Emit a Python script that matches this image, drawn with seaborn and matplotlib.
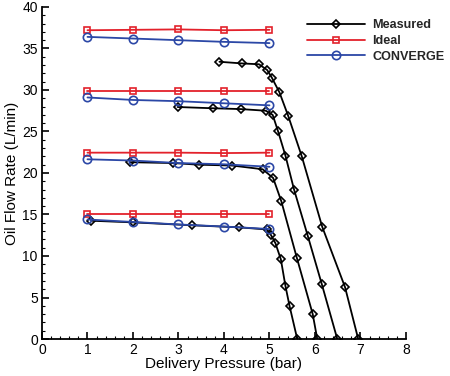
import matplotlib
matplotlib.use("Agg")
import matplotlib.pyplot as plt
import seaborn as sns
import pandas as pd
from matplotlib.lines import Line2D
from matplotlib.ticker import MultipleLocator

sns.set_theme(style="ticks")
plt.rcParams['font.family'] = ['Liberation Sans', 'DejaVu Sans']

# ---- data ----
sim_pressure = [1, 2, 3, 4, 5]
ideal_1 = [15.0, 15.0, 15.0, 15.0, 15.0]
ideal_2 = [22.45, 22.45, 22.45, 22.4, 22.45]
ideal_3 = [29.85, 29.85, 29.85, 29.85, 29.85]
ideal_4 = [37.2, 37.25, 37.3, 37.2, 37.25]

conv_1 = [14.4, 14.1, 13.8, 13.55, 13.25]
conv_2 = [21.65, 21.5, 21.2, 21.05, 20.75]
conv_3 = [29.1, 28.8, 28.65, 28.4, 28.15]
conv_4 = [36.4, 36.2, 36.0, 35.8, 35.65]

meas_p1 = [1.08, 2.01, 3.30, 4.34, 4.94, 5.03, 5.13, 5.25, 5.35, 5.44, 5.61]
meas_q1 = [14.25, 14.05, 13.7, 13.45, 13.2, 12.55, 11.55, 9.6, 6.4, 4.0, 0.0]

meas_p2 = [1.93, 2.88, 3.44, 4.18, 4.85, 5.08, 5.26, 5.60, 5.95, 6.05]
meas_q2 = [21.3, 21.2, 21.0, 20.9, 20.45, 19.4, 16.6, 9.8, 3.0, 0.0]

meas_p3 = [2.98, 3.75, 4.37, 4.92, 5.07, 5.19, 5.35, 5.54, 5.84, 6.15, 6.49]
meas_q3 = [27.95, 27.8, 27.7, 27.5, 27.0, 25.0, 22.1, 18.0, 12.45, 6.6, 0.0]

meas_p4 = [3.90, 4.40, 4.77, 4.95, 5.05, 5.22, 5.41, 5.71, 6.16, 6.66, 6.95]
meas_q4 = [33.4, 33.2, 33.1, 32.4, 31.5, 29.7, 26.9, 22.0, 13.5, 6.25, 0.0]

labels = ["Measured", "Ideal", "CONVERGE"]

RED = '#e3212b'
BLUE = '#2b47a6'
BLACK = '#000000'

fig = plt.figure(figsize=(4.5, 3.76), dpi=100)
ax = fig.add_axes([0.0933, 0.0984, 0.8089, 0.8830])

def draw(xs, ys, color, marker, ms, z):
    df = pd.DataFrame({'x': xs, 'y': ys})
    sns.lineplot(data=df, x='x', y='y', ax=ax, sort=False, estimator=None,
                 color=color, linewidth=1.3, marker=marker, markersize=ms,
                 markerfacecolor='none', markeredgecolor=color,
                 markeredgewidth=1.2, zorder=z, legend=False)

for ys in [ideal_1, ideal_2, ideal_3, ideal_4]:
    draw(sim_pressure, ys, RED, 's', 4.2, 3)
for xs, ys in [(meas_p1, meas_q1), (meas_p2, meas_q2), (meas_p3, meas_q3), (meas_p4, meas_q4)]:
    draw(xs, ys, BLACK, 'D', 4.2, 4)
for ys in [conv_1, conv_2, conv_3, conv_4]:
    draw(sim_pressure, ys, BLUE, 'o', 6, 5)

ax.set_xlim(0, 8)
ax.set_ylim(0, 40)
ax.xaxis.set_major_locator(MultipleLocator(1))
ax.xaxis.set_minor_locator(MultipleLocator(0.2))
ax.yaxis.set_major_locator(MultipleLocator(5))
ax.yaxis.set_minor_locator(MultipleLocator(1))
ax.tick_params(which='major', direction='in', length=5, width=1.2, labelsize=10, color='black', labelcolor='black', pad=3)
ax.tick_params(which='minor', direction='in', length=2.5, width=0.8, color='black')
for s in ['top', 'right']:
    ax.spines[s].set_visible(False)
for s in ['left', 'bottom']:
    ax.spines[s].set_color('black')
    ax.spines[s].set_linewidth(1.3)

ax.set_xlabel("Delivery Pressure (bar)", fontsize=11, labelpad=0, color='black')
ax.set_ylabel("Oil Flow Rate (L/min)", fontsize=11, labelpad=2, color='black')

handles = [
    Line2D([], [], color=BLACK, lw=1.3, marker='D', ms=4.2, mfc='none', mec=BLACK, mew=1.2),
    Line2D([], [], color=RED, lw=1.3, marker='s', ms=4.2, mfc='none', mec=RED, mew=1.2),
    Line2D([], [], color=BLUE, lw=1.3, marker='o', ms=6, mfc='none', mec=BLUE, mew=1.2),
]
leg = ax.legend(handles, labels, loc='upper left', bbox_to_anchor=(0.727, 0.963),
                frameon=False, handlelength=4.6, handletextpad=0.6,
                labelspacing=0.3, borderpad=0, borderaxespad=0,
                prop={'weight': 'bold', 'size': 9.1})

fig.savefig("out.png", dpi=100)
